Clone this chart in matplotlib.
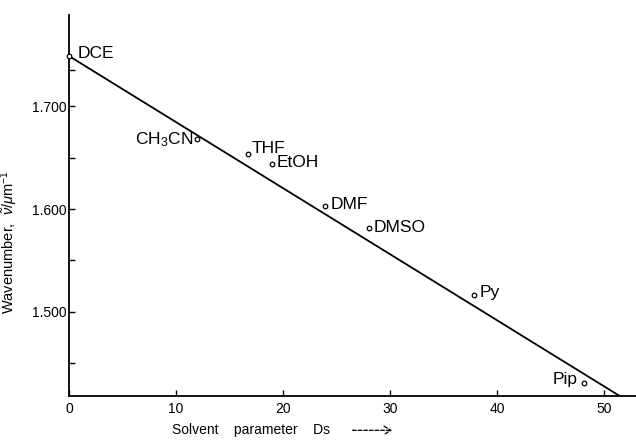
import numpy as np
import matplotlib.pyplot as plt

plt.rcParams['font.family'] = ['Liberation Sans', 'DejaVu Sans']
plt.rcParams['mathtext.fontset'] = 'custom'
plt.rcParams['mathtext.rm'] = 'Liberation Sans'
plt.rcParams['mathtext.it'] = 'Liberation Sans:italic'

# solvents and values
solvents = ['DCE', 'CH$_3$CN', 'THF', 'EtOH', 'DMF', 'DMSO', 'Py', 'Pip']
ds = [0.0, 12.0, 16.7, 19.0, 23.9, 28.0, 37.9, 48.1]
wavenumber = [1.749, 1.668, 1.654, 1.644, 1.603, 1.582, 1.516, 1.431]

# straight line drawn through the points
fit_intercept = 1.749
fit_slope = -0.00643
fit_range = [0.0, 51.5]

# label offsets (points) and alignment for each solvent
label_pos = {
    'DCE': (6, 2, 'left'),
    'CH$_3$CN': (-3, 0, 'right'),
    'THF': (3, 4, 'left'),
    'EtOH': (3, 1, 'left'),
    'DMF': (4, 1, 'left'),
    'DMSO': (4, 0, 'left'),
    'Py': (4, 2, 'left'),
    'Pip': (-4, 2, 'right'),
}

fig = plt.figure(figsize=(6.36, 4.40), dpi=100)
ax = fig.add_axes([0.1085, 0.1, 0.8915, 0.866])

fx = np.array(fit_range)
ax.plot(fx, fit_intercept + fit_slope * fx, color='black', lw=1.3, zorder=2)
ax.plot(ds, wavenumber, 'o', ms=3.3, mfc='white', mec='black', mew=0.9,
        zorder=3, clip_on=False)

for name, x, y in zip(solvents, ds, wavenumber):
    dx, dy, ha = label_pos[name]
    ax.annotate(name, (x, y), xytext=(dx, dy), textcoords='offset points',
                ha=ha, va='center', fontsize=12.5)

ax.set_xlim(0, 53)
ax.set_ylim(1.418, 1.789)
ax.set_xticks([0, 10, 20, 30, 40, 50])
ax.set_yticks([1.5, 1.6, 1.7])
ax.set_yticklabels(['1.500', '1.600', '1.700'])
ax.set_yticks([1.45, 1.55, 1.65, 1.735], minor=True)

for s in ['top', 'right']:
    ax.spines[s].set_visible(False)
for s in ['left', 'bottom']:
    ax.spines[s].set_linewidth(1.3)

ax.tick_params(axis='both', which='major', direction='in', length=4,
               width=1.0, labelsize=10, pad=2)
ax.tick_params(axis='y', which='minor', direction='in', length=4, width=1.0)
ax.tick_params(axis='x', pad=4)

ax.set_ylabel(r'Wavenumber,  $\tilde{\nu}$/$\mu$m$^{-1}$', fontsize=10.5)
ax.yaxis.set_label_coords(-0.086, 0.405)

# x axis label with a dashed arrow
ax.text(0.181, -0.09, 'Solvent    parameter    Ds', transform=ax.transAxes,
        ha='left', va='center', fontsize=10)
ax.annotate('', xy=(0.57, -0.09), xytext=(0.50, -0.09),
            xycoords='axes fraction', textcoords='axes fraction',
            arrowprops=dict(arrowstyle='->,head_length=0.5,head_width=0.3',
                            lw=0.9, linestyle=(0, (3, 1.5)),
                            color='black', shrinkA=0, shrinkB=0))

fig.savefig('out.png', dpi=100)
